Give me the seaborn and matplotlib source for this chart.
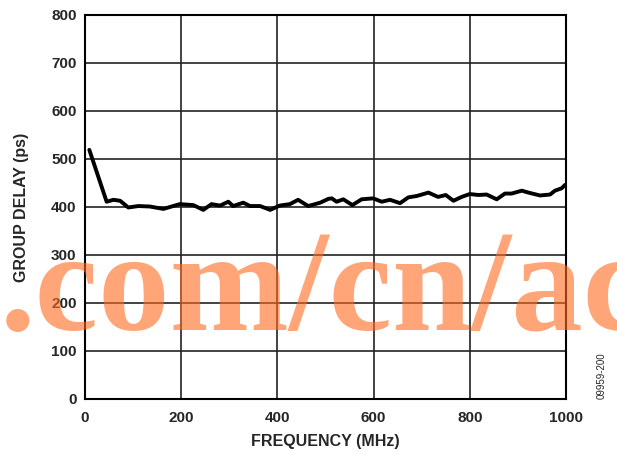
import matplotlib
matplotlib.use("Agg")
from matplotlib import pyplot as plt
import numpy as np
import pandas as pd
import seaborn as sns

# values
freq_mhz = [9, 45, 59, 73, 90, 111, 135, 163, 197, 225, 246, 263, 281, 298, 308,
            329, 343, 364, 385, 405, 426, 443, 464, 489, 506, 513, 523, 537, 556,
            575, 599, 617, 634, 655, 672, 690, 714, 734, 750, 766, 783, 800, 818,
            835, 856, 873, 887, 908, 922, 946, 967, 977, 991, 998]
delay_ps = [519, 411, 415, 413, 399, 402, 401, 396, 406, 404, 394, 406, 403, 411, 402,
            409, 402, 402, 394, 403, 406, 415, 402, 409, 417, 418, 411, 416, 404,
            416, 418, 411, 415, 408, 420, 423, 430, 421, 425, 413, 421, 427, 425,
            426, 416, 428, 428, 434, 430, 424, 426, 434, 439, 446]

x_ticks = [0, 200, 400, 600, 800, 1000]
y_ticks = [0, 100, 200, 300, 400, 500, 600, 700, 800]

df = pd.DataFrame({"freq": freq_mhz, "delay": delay_ps})

sns.set_style("white")
plt.rcParams["font.family"] = ["Liberation Sans", "DejaVu Sans"]

fig = plt.figure(figsize=(6.17, 4.55), dpi=100)
ax = fig.add_axes([85 / 617, 56 / 455, 481 / 617, 384 / 455])

sns.lineplot(data=df, x="freq", y="delay", color="black", linewidth=2.8, ax=ax)

ax.set_xlim(0, 1000)
ax.set_ylim(0, 800)
ax.set_xticks(x_ticks)
ax.set_yticks(y_ticks)
ax.grid(True, color="#222222", linewidth=1.2)
ax.tick_params(length=0, labelsize=11)
ax.tick_params(axis="x", pad=9)
ax.tick_params(axis="y", pad=6)
for lbl in ax.get_xticklabels() + ax.get_yticklabels():
    lbl.set_fontweight("bold")
for sp in ax.spines.values():
    sp.set_color("black")
    sp.set_linewidth(1.5)

ax.set_xlabel("FREQUENCY (MHz)", fontsize=11.5, fontweight="bold", labelpad=6)
ax.set_ylabel("GROUP DELAY (ps)", fontsize=11.5, fontweight="bold", labelpad=16)

fig.text(0.975, 56 / 455, "09959-200", rotation=90, fontsize=7,
         ha="center", va="bottom")

# orange watermark overlaid on the figure (runs off the right edge)
fig.text(0.0, 125 / 455, ".com/cn/ac", fontsize=103, fontweight="bold",
         family=["Liberation Serif", "DejaVu Serif"], color="#FF6A1F",
         alpha=0.6, ha="left", va="baseline")

fig.savefig("out.png", dpi=100)
